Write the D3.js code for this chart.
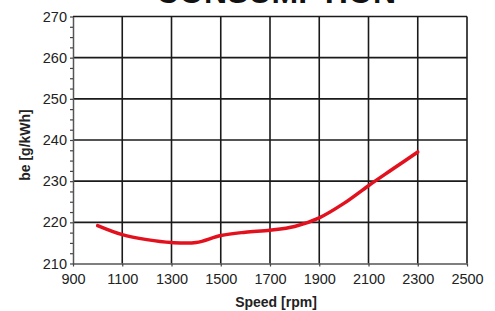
<!DOCTYPE html>
<html>
<head>
<meta charset="utf-8">
<script src="https://cdn.jsdelivr.net/npm/d3@7"></script>
<style>
  body { margin: 0; background: #fff; }
  text { font-family: "Liberation Sans", Arial, sans-serif; }
</style>
</head>
<body>
<svg id="chart" width="495" height="311"></svg>
<script>
// chart values
var speed = [1000, 1100, 1200, 1300, 1400, 1500, 1600, 1700, 1800, 1900, 2000, 2100, 2200, 2300];
var be = [219.2, 217.0, 215.8, 215.1, 215.1, 216.8, 217.6, 218.1, 219.0, 221.1, 224.6, 228.9, 233.0, 237.1];
var xTicks = [900, 1100, 1300, 1500, 1700, 1900, 2100, 2300, 2500];
var yTicks = [210, 220, 230, 240, 250, 260, 270];

var svg = d3.select("#chart");
var plotLeft = 73, plotRight = 467, plotTop = 16.5, plotBottom = 263.5;

var x = d3.scaleLinear().domain([900, 2500]).range([plotLeft, plotRight]);
var y = d3.scaleLinear().domain([210, 270]).range([plotBottom, plotTop]);

// title, mostly cut off by the top edge
svg.append("text")
    .attr("x", 276)
    .attr("y", 3)
    .attr("text-anchor", "middle")
    .style("font-size", "32px")
    .style("font-weight", "bold")
    .style("fill", "#111")
    .text("CONSUMPTION");

// grid
svg.append("g").selectAll("line")
    .data(xTicks.slice(1))
    .enter().append("line")
    .attr("x1", function (d) { return x(d) })
    .attr("x2", function (d) { return x(d) })
    .attr("y1", plotTop)
    .attr("y2", plotBottom)
    .style("stroke", "#1a1a1a")
    .style("stroke-width", 1.6);

svg.append("g").selectAll("line")
    .data(yTicks.slice(1))
    .enter().append("line")
    .attr("x1", plotLeft)
    .attr("x2", plotRight)
    .attr("y1", function (d) { return y(d) })
    .attr("y2", function (d) { return y(d) })
    .style("stroke", "#1a1a1a")
    .style("stroke-width", 1.6);

// y axis with minor ticks
var yAxis = d3.axisLeft(y)
    .tickValues(d3.range(210, 270.1, 2.5))
    .tickSize(3)
    .tickSizeOuter(0)
    .tickFormat(function (d) { return d % 10 === 0 ? d : "" });

var gy = svg.append("g")
    .attr("transform", "translate(" + plotLeft + ",0)")
    .call(yAxis);
gy.select(".domain").style("stroke", "#555").style("stroke-width", 1.5);
gy.selectAll(".tick line").style("stroke", "#444").style("stroke-width", 1.2);
gy.selectAll(".tick text")
    .attr("x", -6)
    .style("font-size", "14.5px")
    .style("font-family", "Liberation Sans, Arial, sans-serif")
    .style("fill", "#222");

// x axis
var xAxis = d3.axisBottom(x)
    .tickValues(xTicks)
    .tickSize(3)
    .tickSizeOuter(0)
    .tickFormat(d3.format("d"));

var gx = svg.append("g")
    .attr("transform", "translate(0," + plotBottom + ")")
    .call(xAxis);
gx.select(".domain").style("stroke", "#555").style("stroke-width", 1.5);
gx.selectAll(".tick line").style("stroke", "#444").style("stroke-width", 1.2);
gx.selectAll(".tick text")
    .attr("y", 10)
    .style("font-size", "14.5px")
    .style("font-family", "Liberation Sans, Arial, sans-serif")
    .style("fill", "#222");

// axis titles
svg.append("text")
    .attr("x", 276)
    .attr("y", 307)
    .attr("text-anchor", "middle")
    .style("font-size", "14px")
    .style("font-weight", "bold")
    .style("fill", "#222")
    .text("Speed [rpm]");

svg.append("text")
    .attr("transform", "translate(30,145) rotate(-90)")
    .attr("text-anchor", "middle")
    .style("font-size", "14px")
    .style("font-weight", "bold")
    .style("fill", "#222")
    .text("be [g/kWh]");

// consumption curve
var line = d3.line()
    .x(function (d, i) { return x(speed[i]) })
    .y(function (d) { return y(d) })
    .curve(d3.curveCatmullRom.alpha(0.5));

svg.append("path")
    .datum(be)
    .attr("d", line)
    .style("fill", "none")
    .style("stroke", "#e3101e")
    .style("stroke-width", 3.5)
    .style("stroke-linecap", "round");
</script>
</body>
</html>
